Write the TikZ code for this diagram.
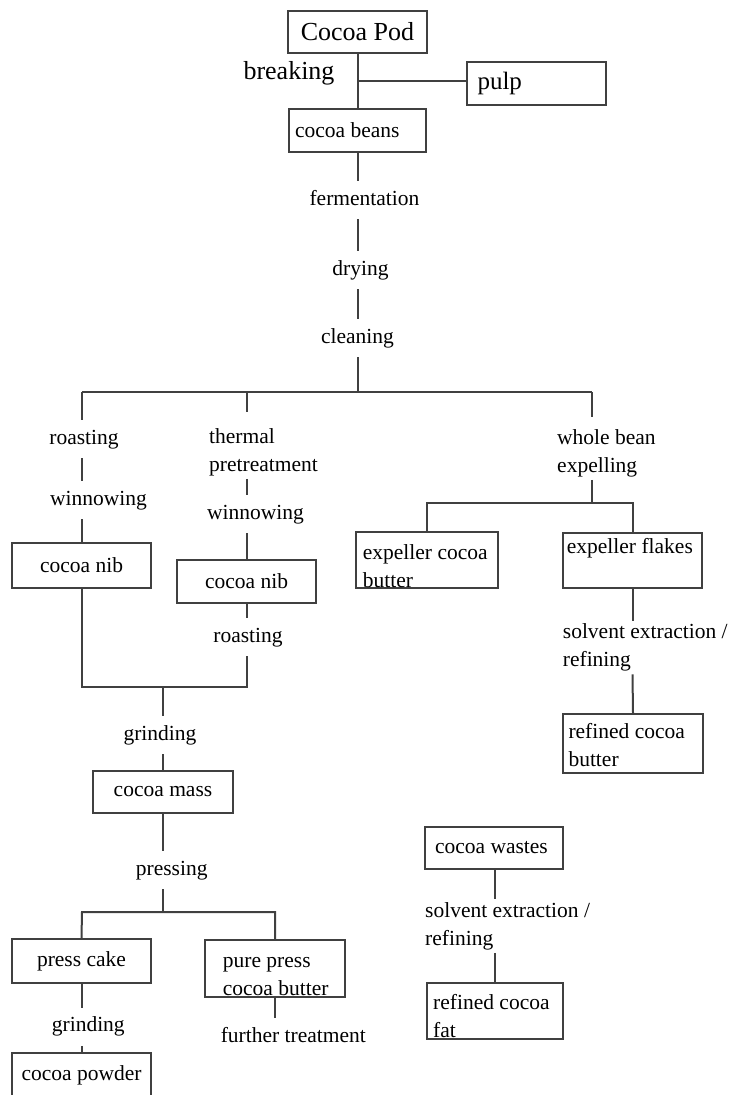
\documentclass[tikz,border=0pt]{standalone}
\usepackage{fontspec}
\setmainfont{Liberation Serif}

\newcommand\flowfont{\fontsize{21.5pt}{28pt}\selectfont}
\newcommand\bigflowfont{\fontsize{26pt}{30pt}\selectfont}

\tikzset{
  flow/.style={line width=2pt, draw=black!75},
  box/.style={draw=black!75, line width=2pt, inner sep=0pt, font=\flowfont},
  big/.style={font=\bigflowfont},
  lbl/.style={inner xsep=0pt, inner ysep=9pt, text height=15pt, text depth=5pt, font=\flowfont},
  mlbl/.style={inner xsep=0pt, inner ysep=3pt, align=left, anchor=north west, font=\flowfont},
  boxtxt/.style={inner sep=0pt, align=left, anchor=north west, font=\flowfont}
}

\begin{document}
\begin{tikzpicture}[x=1pt,y=-1pt]

    \clip (0,0) rectangle (729,1095);

    % top: pod and beans
    \node[box, big, minimum width=139pt, minimum height=42pt] (pod) at (357.5,32) {Cocoa Pod};
    \node[big, inner sep=0pt] (breaking) at (289,73) {breaking};
    \node[box, font=\fontsize{25pt}{30pt}\selectfont, minimum width=139pt, minimum height=43pt,
      text width=118pt, align=flush left] (pulp) at (536.5,83.5) {pulp};
    \node[box, minimum width=137pt, minimum height=43pt, text width=125pt, align=flush left]
      (beans) at (357.5,130.5) {cocoa beans};
    \coordinate (brk) at (357.5,81);

    % bean treatment
    \node[lbl] (ferment) at (364.5,200) {fermentation};
    \node[lbl] (drying) at (360.5,270) {drying};
    \node[lbl] (cleaning) at (357.5,338) {cleaning};

    % three routes
    \coordinate (split) at (357.5,392);
    \coordinate (sL) at (82,392);
    \coordinate (sM) at (247,392);
    \coordinate (sR) at (592,392);
    \coordinate (sMend) at (247,412);
    \coordinate (sRend) at (592,417);

    % left route
    \node[lbl] (roast1) at (84,439) {roasting};
    \node[lbl] (winnow1) at (98.5,500) {winnowing};
    \node[box, minimum width=139pt, minimum height=45pt] (nib1) at (81.5,565.5) {cocoa nib};

    % middle route
    \node[mlbl] (thermal) at (209,425) {thermal\\pretreatment};
    \node[lbl] (winnow2) at (255.5,514) {winnowing};
    \node[box, minimum width=139pt, minimum height=43pt] (nib2) at (246.5,581.5) {cocoa nib};
    \node[lbl] (roast2) at (248,637) {roasting};

    % mass and pressing
    \coordinate (jL) at (82,687);
    \coordinate (jM) at (163,687);
    \coordinate (jR) at (247,687);
    \node[lbl] (grind1) at (160,735) {grinding};
    \node[box, minimum width=140pt, minimum height=42pt] (mass) at (163,792) {cocoa mass};
    \node[lbl] (pressing) at (171.7,870) {pressing};
    \coordinate (pM) at (163,912);
    \coordinate (pL) at (82,912);
    \coordinate (pR) at (275,912);
    \node[box, minimum width=139pt, minimum height=44pt] (cake) at (81.5,961) {press cake};
    \node[lbl] (grind2) at (88.3,1026.7) {grinding};
    \node[box, minimum width=139pt, minimum height=44pt] (powder) at (81.5,1075) {cocoa powder};
    \node[box, minimum width=140pt, minimum height=57pt] (pure) at (275,968.5) {};
    \node[boxtxt] (pure-t) at (222.7,956.7) {pure press\\cocoa butter};
    \node[lbl] (further) at (293.3,1037.3) {further treatment};

    % right route
    \node[mlbl] (whole) at (557,426) {whole bean\\expelling};
    \coordinate (wM) at (592,503);
    \coordinate (wL) at (427,503);
    \coordinate (wR) at (632.5,503);
    \node[box, minimum width=142pt, minimum height=56pt] (expb) at (427,560) {};
    \node[boxtxt] (expb-t) at (362.7,544.2) {expeller cocoa\\butter};
    \node[box, minimum width=139pt, minimum height=55pt] (flakes) at (632.5,560.5) {};
    \node[boxtxt] (flakes-t) at (566.7,538.3) {expeller flakes};
    \node[mlbl] (solv1) at (562.7,620.5) {solvent extraction /\\refining};
    \node[box, minimum width=140pt, minimum height=59pt] (refb) at (633,743.5) {};
    \node[boxtxt] (refb-t) at (568.3,723.5) {refined cocoa\\butter};

    % wastes
    \node[box, minimum width=138pt, minimum height=42pt, text width=118pt, align=flush left]
      (wastes) at (494,848) {cocoa wastes};
    \node[mlbl] (solv2) at (425,898.9) {solvent extraction /\\refining};
    \node[box, minimum width=136pt, minimum height=56pt] (reffat) at (495,1011) {};
    \node[boxtxt] (reffat-t) at (433,994.2) {refined cocoa\\fat};

    % connectors
    \draw[flow] (pod) -- (brk) -- (beans);
    \draw[flow] (brk) -- (brk -| pulp.west);
    \foreach \a/\b in {beans/ferment, ferment/drying, drying/cleaning}
      \draw[flow] (beans.south |- \a.south) -- (beans.south |- \b.north);
    \draw[flow] (beans.south |- cleaning.south) -- (split);
    \draw[flow] (sL) -- (sR);
    \draw[flow] (sM) -- (sMend);
    \draw[flow] (sR) -- (sRend);

    \draw[flow] (sL) -- (sL |- roast1.north);
    \draw[flow] (sL |- roast1.south) -- (sL |- winnow1.north);
    \draw[flow] (sL |- winnow1.south) -- (sL |- nib1.north);

    \draw[flow] (sM |- thermal.south) -- (sM |- winnow2.north);
    \draw[flow] (sM |- winnow2.south) -- (sM |- nib2.north);
    \draw[flow] (sM |- nib2.south) -- (sM |- roast2.north);

    \draw[flow] (sL |- nib1.south) -- (jL) -- (jR) -- (sM |- roast2.south);
    \draw[flow] (jM) -- (jM |- grind1.north);
    \draw[flow] (jM |- grind1.south) -- (mass.north);
    \draw[flow] (mass.south) -- (jM |- pressing.north);
    \draw[flow] (jM |- pressing.south) -- (pM);
    \draw[flow] (cake.north) -- (pL) -- (pR) -- (pure.north);
    \draw[flow] (cake.south) -- (cake.south |- grind2.north);
    \draw[flow] (cake.south |- grind2.south) -- (powder.north);
    \draw[flow] (pure.south) -- (pure.south |- further.north);

    \draw[flow] (sR |- whole.south) -- (wM);
    \draw[flow] (expb.north) -- (wL) -- (wR) -- (flakes.north);
    \draw[flow] (flakes.south) -- (flakes.south |- solv1.north);
    \draw[flow] (flakes.south |- solv1.south) -- (refb.north);

    \draw[flow] (reffat.north |- wastes.south) -- (reffat.north |- solv2.north);
    \draw[flow] (reffat.north |- solv2.south) -- (reffat.north);

\end{tikzpicture}
\end{document}
